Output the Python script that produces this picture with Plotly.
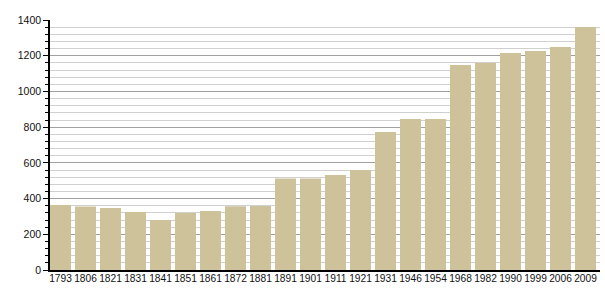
import plotly.graph_objects as go

years = ["1793", "1806", "1821", "1831", "1841", "1851", "1861", "1872", "1881", "1891", "1901",
         "1911", "1921", "1931", "1946", "1954", "1968", "1982", "1990", "1999", "2006", "2009"]
population = [364, 355, 347, 325, 280, 319, 330, 357, 358, 513, 513,
              532, 560, 773, 846, 846, 1148, 1159, 1215, 1226, 1249, 1361]
y_ticks = [0, 200, 400, 600, 800, 1000, 1200, 1400]

fig = go.Figure(go.Bar(
    x=years, y=population,
    marker=dict(color="#cdc29a", line=dict(width=0)),
))

fig.update_layout(
    width=605, height=300,
    margin=dict(l=50, r=5, t=20, b=30, autoexpand=False),
    paper_bgcolor="white", plot_bgcolor="white",
    bargap=0.16,
    showlegend=False,
    font=dict(family="Liberation Sans, Arial, sans-serif", size=10.5, color="#111"),
)
fig.update_xaxes(
    type="category", range=[-0.42, 21.58],
    showline=True, linecolor="black", linewidth=1.5,
    ticks="", showgrid=False, tickangle=0, automargin=False,
    tickfont=dict(size=10.2), ticklabelstandoff=-2,
)
fig.update_yaxes(
    range=[0, 1400], tickvals=y_ticks,
    showline=True, linecolor="black", linewidth=1.5,
    ticks="outside", ticklen=5, tickcolor="black", tickwidth=1,
    showgrid=True, gridcolor="#a0a0a0", gridwidth=1,
    zeroline=False, automargin=False,
    minor=dict(dtick=40, showgrid=True, gridcolor="#d0d0d0", gridwidth=1,
               ticks="outside", ticklen=3, tickcolor="black"),
    tickfont=dict(size=10.5),
)

fig.write_html("out.html")
